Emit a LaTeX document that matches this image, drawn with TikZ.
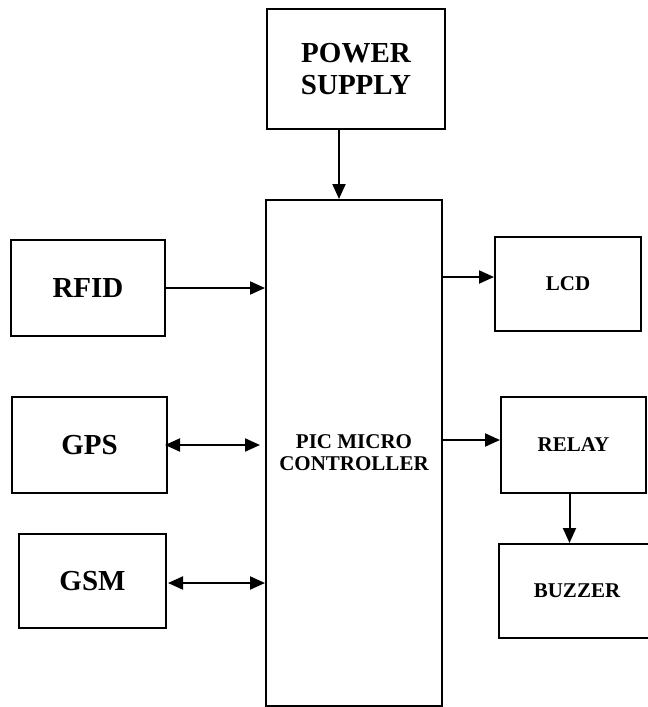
\documentclass[tikz,border=0pt]{standalone}
\usepackage{fontspec}
\setmainfont{Liberation Serif}
\usetikzlibrary{arrows.meta}
\begin{document}
\begin{tikzpicture}[
        x=1pt, y=-1pt,
        box/.style={rectangle, draw, line width=2pt, inner sep=0pt, align=center, font=\bfseries\fontsize{21}{22}\selectfont},
        bigbox/.style={box, font=\bfseries\fontsize{29}{32}\selectfont},
        arrow/.style={-{Triangle[length=15pt,width=13pt]}, line width=2pt},
        dblarrow/.style={{Triangle[length=15pt,width=13pt]}-{Triangle[length=15pt,width=13pt]}, line width=2pt}
    ]
        \useasboundingbox (0,0) rectangle (648,707);

        % Centre block
        \node[bigbox, minimum width=178pt, minimum height=120pt] (power) at (356,69) {POWER\\SUPPLY};
        \node[box, minimum width=176pt, minimum height=506pt] (pic) at (354,453) {PIC MICRO\\CONTROLLER};

        % Left column: inputs
        \node[bigbox, minimum width=154pt, minimum height=96pt] (rfid) at (88,288) {RFID};
        \node[bigbox, minimum width=155pt, minimum height=96pt] (gps) at (89.5,445) {GPS};
        \node[bigbox, minimum width=147pt, minimum height=94pt] (gsm) at (92.5,581) {GSM};

        % Right column: outputs
        \node[box, minimum width=146pt, minimum height=94pt] (lcd) at (568,284) {LCD};
        \node[box, minimum width=145pt, minimum height=96pt] (relay) at (573.5,445) {RELAY};
        \node[box, minimum width=156pt, minimum height=94pt] (buzzer) at (577,591) {BUZZER};

        % Arrows
        \draw[arrow] ([xshift=-17pt]power.south) -- ([xshift=-15pt]pic.north);
        \draw[arrow] (rfid.east) -- (rfid.east -| pic.west);
        \draw[dblarrow, shorten <=-3pt, shorten >=5pt] (gps.east) -- (gps.east -| pic.west);
        \draw[dblarrow, shorten <=1pt] ([yshift=-2pt]gsm.east) -- ([yshift=-2pt]gsm.east -| pic.west);
        \draw[arrow] ([yshift=7pt]lcd.west -| pic.east) -- ([yshift=7pt]lcd.west);
        \draw[arrow] ([yshift=5pt]relay.west -| pic.east) -- ([yshift=5pt]relay.west);
        \draw[arrow] ([xshift=-4pt]relay.south) -- ([xshift=-4pt]relay.south |- buzzer.north);

    \end{tikzpicture}
\end{document}
